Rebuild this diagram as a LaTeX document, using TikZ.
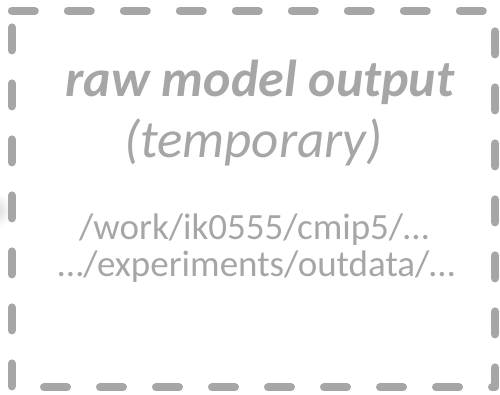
\documentclass[tikz,border=0pt]{standalone}
\usepackage{fontspec}
\setmainfont{Carlito}
\usetikzlibrary{positioning}
\definecolor{boxgray}{HTML}{A6A6A6}

\tikzset{
  rawbox/.style={minimum width=483pt, minimum height=376pt, inner sep=0pt},
  boxline/.style={draw=boxgray, line width=8pt, line cap=round, line join=round,
    dash pattern=on 23pt off 33pt},
  headtext/.style={text=boxgray, anchor=base, inner sep=0pt, font=\fontsize{53}{58}\selectfont\itshape},
  pathtext/.style={text=boxgray, anchor=base, inner sep=0pt, font=\fontsize{37}{41}\selectfont}
}

\begin{document}
\begin{tikzpicture}[x=1pt,y=-1pt]
\useasboundingbox (0,0) rectangle (500,395);
% shadow of something left of the frame
\begin{scope}
\clip (0,0) rectangle (500,395);
\shade[inner color=boxgray!45, outer color=white] (-6,210) circle (18);
\end{scope}

\node[rawbox] (store) at (253.5,199) {};
\draw[boxline] (store.north west) -- (store.north east) -- (store.south east)
  -- (store.south west) -- cycle;

\node[headtext, font=\fontsize{52}{57}\selectfont\bfseries\itshape] (title) at (260,97) {raw model output};
\node[headtext] (temp) at (253.5,158) {(temporary)};
\node[pathtext] (workdir) at (254,240) {/work/ik0555/cmip5/…};
\node[pathtext] (outdir) at (256.5,276) {…/experiments/outdata/…};
\end{tikzpicture}
\end{document}
